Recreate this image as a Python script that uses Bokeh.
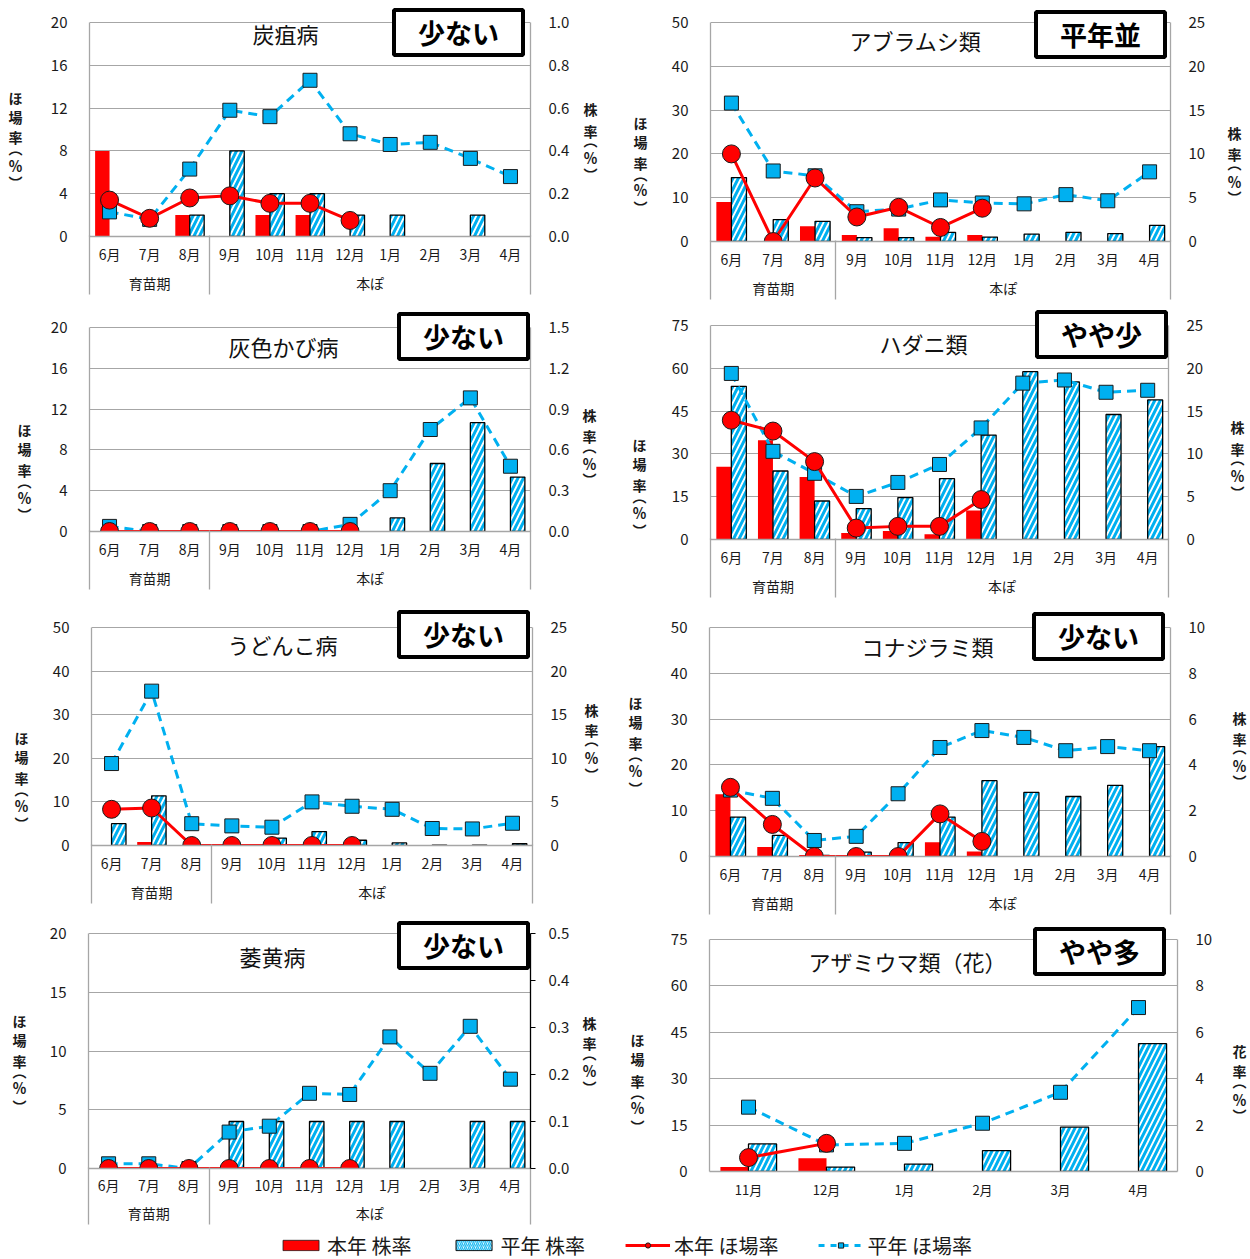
import numpy as np
from bokeh.plotting import figure
from bokeh.models import (Range1d, LinearAxis, FixedTicker, Label, ColumnDataSource,
                          Legend, LegendItem, NumeralTickFormatter)
from bokeh.layouts import column, row
from bokeh.transform import dodge
from bokeh.embed import file_html
from bokeh.resources import INLINE

nan = float("nan")
FONT = "Noto Sans CJK JP"
RED = "#FF0000"
BLUE = "#00B0F0"
GRID = "#A6A6A6"

MONTHS = ["6月", "7月", "8月", "9月", "10月", "11月", "12月", "1月", "2月", "3月", "4月"]
MONTHS_THRIPS = ["11月", "12月", "1月", "2月", "3月", "4月"]
GROUPS = ["育苗期", "本ぽ"]
LEGEND_LABELS = ["本年 株率", "平年 株率", "本年 ほ場率", "平年 ほ場率"]
LEFT_TITLE = ["ほ", "場", "率", "︵", "％", "︶"]
RIGHT_TITLE = ["株", "率", "︵", "％", "︶"]
RIGHT_TITLE_FLOWER = ["花", "率", "︵", "％", "︶"]

# 炭疽病
anth_cur_plant = [0.4, 0, 0.1, 0, 0.1, 0.1, 0, nan, nan, nan, nan]
anth_avg_plant = [nan, nan, 0.1, 0.4, 0.2, 0.2, 0.1, 0.1, nan, 0.1, nan]
anth_cur_field = [3.4, 1.7, 3.6, 3.8, 3.1, 3.1, 1.5, nan, nan, nan, nan]
anth_avg_field = [2.3, 1.6, 6.3, 11.8, 11.2, 14.6, 9.6, 8.6, 8.8, 7.3, 5.6]

# アブラムシ類
aphid_cur_plant = [4.5, 0, 1.75, 0.75, 1.5, 0.55, 0.75, nan, nan, nan, nan]
aphid_avg_plant = [7.3, 2.5, 2.3, 0.45, 0.45, 1.05, 0.5, 0.85, 1.05, 0.9, 1.85]
aphid_cur_field = [20.0, 0, 14.5, 5.6, 7.8, 3.2, 7.6, nan, nan, nan, nan]
aphid_avg_field = [31.6, 16.1, 15.0, 6.8, 7.4, 9.5, 8.8, 8.6, 10.7, 9.3, 15.9]

# 灰色かび病
mold_cur_plant = [0, 0, 0, 0, 0, 0, 0, nan, nan, nan, nan]
mold_avg_plant = [nan, nan, nan, nan, nan, nan, nan, 0.1, 0.5, 0.8, 0.4]
mold_cur_field = [0, 0, 0, 0, 0, 0, 0, nan, nan, nan, nan]
mold_avg_field = [0.5, 0, 0, 0, 0, 0, 0.7, 4.0, 10.0, 13.1, 6.4]

# ハダニ類
mite_cur_plant = [8.5, 11.6, 7.3, 0.75, 1.0, 0.6, 3.4, nan, nan, nan, nan]
mite_avg_plant = [17.9, 8.0, 4.5, 3.6, 4.9, 7.1, 12.2, 19.6, 18.4, 14.6, 16.3]
mite_cur_field = [41.8, 38.0, 27.3, 4.0, 4.6, 4.6, 14.0, nan, nan, nan, nan]
mite_avg_field = [58.2, 30.9, 23.2, 15.1, 20.0, 26.3, 39.1, 54.8, 55.9, 51.6, 52.3]

# うどんこ病
pm_cur_plant = [0.05, 0.4, 0, 0, 0, 0, 0, nan, nan, nan, nan]
pm_avg_plant = [2.5, 5.7, nan, 0.05, 0.85, 1.6, 0.6, 0.3, 0.05, 0.05, 0.2]
pm_cur_field = [8.3, 8.6, 0, 0, 0, 0, 0, nan, nan, nan, nan]
pm_avg_field = [18.8, 35.4, 5.0, 4.5, 4.2, 10.0, 9.0, 8.3, 3.9, 3.8, 5.1]

# コナジラミ類
wf_cur_plant = [2.72, 0.41, 0.07, 0, 0, 0.62, 0.22, nan, nan, nan, nan]
wf_avg_plant = [1.72, 0.92, 0.05, 0.19, 0.61, 1.72, 3.31, 2.8, 2.62, 3.11, 4.8]
wf_cur_field = [15.1, 7.0, 0, 0, 0, 9.3, 3.3, nan, nan, nan, nan]
wf_avg_field = [14.5, 12.7, 3.5, 4.4, 13.7, 23.8, 27.5, 26.0, 23.1, 24.0, 23.1]

# 萎黄病
fus_cur_plant = [0, 0, 0, 0, 0, 0, 0, nan, nan, nan, nan]
fus_avg_plant = [nan, nan, nan, 0.1, 0.1, 0.1, 0.1, 0.1, nan, 0.1, 0.1]
fus_cur_field = [0, 0, 0, 0, 0, 0, 0, nan, nan, nan, nan]
fus_avg_field = [0.4, 0.4, 0, 3.1, 3.6, 6.4, 6.3, 11.2, 8.1, 12.1, 7.6]

# アザミウマ類（花）
thr_cur_plant = [0.19, 0.57, nan, nan, nan, nan]
thr_avg_plant = [1.19, 0.19, 0.32, 0.9, 1.91, 5.51]
thr_cur_field = [4.5, 9.1, nan, nan, nan, nan]
thr_avg_field = [20.8, 8.6, 9.1, 15.6, 25.6, 53.0]

# layout: fig=(origin x, origin y, width, height); frame=(x0, y0, x1, y1) in page pixels
PANELS = [
    dict(title="炭疽病", badge="少ない", months=MONTHS, ymax=20, ystep=4, rmax=1.0, rstep=0.2, rfmt="0.0",
         rtitle=RIGHT_TITLE, data=(anth_cur_plant, anth_avg_plant, anth_cur_field, anth_avg_field),
         fig=(0, 0, 620, 307), frame=(89, 22, 530, 236), s=(7, 6),
         tpos=(285, 32), bpos=(458, 32), lpos=(18, 135), rpos=(590, 137), rw=21),
    dict(title="アブラムシ類", badge="平年並", months=MONTHS, ymax=50, ystep=10, rmax=25, rstep=5, rfmt=None,
         rtitle=RIGHT_TITLE, data=(aphid_cur_plant, aphid_avg_plant, aphid_cur_field, aphid_avg_field),
         fig=(620, 0, 630, 307), frame=(710, 22, 1170, 241), s=(7, 6),
         tpos=(915, 39), bpos=(1100, 34), lpos=(643, 160), rpos=(1234, 160), rw=17),
    dict(title="灰色かび病", badge="少ない", months=MONTHS, ymax=20, ystep=4, rmax=1.5, rstep=0.3, rfmt="0.0",
         rtitle=RIGHT_TITLE, data=(mold_cur_plant, mold_avg_plant, mold_cur_field, mold_avg_field),
         fig=(0, 307, 620, 300), frame=(89, 327, 530, 531), s=(7, 6),
         tpos=(283, 345), bpos=(463, 336), lpos=(27, 467), rpos=(589, 443), rw=21),
    dict(title="ハダニ類", badge="やや少", months=MONTHS, ymax=75, ystep=15, rmax=25, rstep=5, rfmt=None,
         rtitle=RIGHT_TITLE, data=(mite_cur_plant, mite_avg_plant, mite_cur_field, mite_avg_field),
         fig=(620, 307, 630, 300), frame=(710, 325, 1168, 539), s=(7, 6),
         tpos=(923, 342), bpos=(1101, 334), lpos=(642, 482), rpos=(1237, 455), rw=17),
    dict(title="うどんこ病", badge="少ない", months=MONTHS, ymax=50, ystep=10, rmax=25, rstep=5, rfmt=None,
         rtitle=RIGHT_TITLE, data=(pm_cur_plant, pm_avg_plant, pm_cur_field, pm_avg_field),
         fig=(0, 607, 620, 312), frame=(91, 627, 532, 845), s=(7, 6),
         tpos=(282, 643), bpos=(463, 634), lpos=(24, 775), rpos=(591, 737), rw=17),
    dict(title="コナジラミ類", badge="少ない", months=MONTHS, ymax=50, ystep=10, rmax=10, rstep=2, rfmt=None,
         rtitle=RIGHT_TITLE, data=(wf_cur_plant, wf_avg_plant, wf_cur_field, wf_avg_field),
         fig=(620, 607, 630, 312), frame=(709, 627, 1170, 856), s=(7, 6),
         tpos=(927, 645), bpos=(1098, 636), lpos=(638, 740), rpos=(1239, 745), rw=17),
    dict(title="萎黄病", badge="少ない", months=MONTHS, ymax=20, ystep=5, rmax=0.5, rstep=0.1, rfmt="0.0",
         rtitle=RIGHT_TITLE, data=(fus_cur_plant, fus_avg_plant, fus_cur_field, fus_avg_field),
         fig=(0, 919, 620, 311), frame=(88, 933, 530, 1168), s=(6, 5),
         tpos=(272, 955), bpos=(463, 945), lpos=(22, 1058), rpos=(589, 1050), rw=21, rticks_marks=True),
    dict(title="アザミウマ類（花）", badge="やや多", months=MONTHS_THRIPS, ymax=75, ystep=15, rmax=10, rstep=2,
         rfmt=None, rtitle=RIGHT_TITLE_FLOWER,
         data=(thr_cur_plant, thr_avg_plant, thr_cur_field, thr_avg_field),
         fig=(620, 919, 630, 311), frame=(709, 939, 1177, 1171), s=(8, 0),
         tpos=(907, 960), bpos=(1099, 951), lpos=(640, 1078), rpos=(1239, 1078), rw=17),
]

LABEL_H = 24  # approx. height of a 14px tick label line
LEFT_OFFS = [-38, -19, 2, 13, 29, 47]     # vertical offsets (px) of the stacked characters
RIGHT_OFFS = [-28, -7, 2, 20, 36]


def style_axis(ax, size):
    ax.major_label_text_font = FONT
    ax.major_label_text_font_size = size
    ax.major_label_text_color = "#1a1a1a"
    ax.axis_line_color = None
    ax.major_tick_line_color = None
    ax.minor_tick_line_color = None
    ax.major_tick_out = 0
    ax.major_tick_in = 0
    ax.minor_tick_out = 0
    ax.minor_tick_in = 0


def make_panel(cfg):
    ox, oy, W, H = cfg["fig"]
    fx0, fy0, fx1, fy1 = cfg["frame"]
    months = cfg["months"]
    n = len(months)
    ymax, rmax = cfg["ymax"], cfg["rmax"]
    fh = fy1 - fy0
    bx, by = cfg["bpos"]
    # the frame starts at the top of its row (rows align frame tops); the space above the
    # top gridline holds the badge box
    top = oy
    ext = fy0 - top
    scale = (fh + ext) / fh
    p = figure(frame_width=fx1 - fx0, frame_height=fh + ext, min_border=0,
               min_border_left=fx0 - ox, min_border_top=0,
               min_border_right=W - (fx1 - ox), min_border_bottom=H - (fy1 - oy),
               x_range=Range1d(-0.5, n - 0.5), y_range=Range1d(0, ymax * scale),
               output_backend="svg", toolbar_location=None, tools="")
    p.extra_y_ranges = {"right": Range1d(0, rmax * scale)}
    p.outline_line_color = None
    p.background_fill_color = "white"
    p.border_fill_color = "white"

    def X(px):
        return -0.5 + (px - fx0) / (fx1 - fx0) * n

    def Y(py):
        return (fy1 - py) / fh * ymax

    # left axis (also draws the left border of the plot area)
    lticks = [float(v) for v in np.arange(0, ymax + cfg["ystep"] / 2, cfg["ystep"])]
    yax = p.yaxis[0]
    yax.ticker = FixedTicker(ticks=lticks, minor_ticks=[])
    style_axis(yax, "15px")
    yax.axis_line_color = GRID
    yax.axis_line_width = 1.3
    yax.bounds = (0, ymax)
    yax.major_label_standoff = 22
    p.ygrid.grid_line_color = GRID
    p.ygrid.grid_line_width = 1.2
    p.xgrid.visible = False

    # left axis title: characters stacked upright
    lx, ly = cfg["lpos"]
    lt = [round(Y(ly + o), 5) for o in LEFT_OFFS]
    ltax = LinearAxis(ticker=FixedTicker(ticks=lt, minor_ticks=[]))
    ltax.major_label_overrides = {t: c for t, c in zip(lt, LEFT_TITLE)}
    style_axis(ltax, "14px")
    ltax.major_label_text_font_style = "bold"
    ltax.major_label_orientation = "horizontal"
    ltax.major_label_standoff = max(0, int((fx0 - 39) - (lx + 7)))
    p.add_layout(ltax, "left")

    # right axis (also draws the right border)
    rticks = [round(float(v), 3) for v in np.arange(0, rmax + cfg["rstep"] / 2, cfg["rstep"])]
    rax = LinearAxis(y_range_name="right", ticker=FixedTicker(ticks=rticks, minor_ticks=[]))
    if cfg["rfmt"]:
        rax.formatter = NumeralTickFormatter(format=cfg["rfmt"])
    style_axis(rax, "15px")
    rax.axis_line_color = GRID
    rax.axis_line_width = 1.3
    rax.bounds = (0, rmax)
    rax.major_label_standoff = 18
    if cfg.get("rticks_marks"):
        rax.axis_line_color = "#000000"
        rax.major_tick_line_color = "#000000"
        rax.major_tick_out = 5
        rax.major_label_standoff = 13
    p.add_layout(rax, "right")

    # right axis title
    rx, ry = cfg["rpos"]
    rtk = [round(Y(ry + o), 5) for o in RIGHT_OFFS]
    rtax = LinearAxis(ticker=FixedTicker(ticks=rtk, minor_ticks=[]))
    rtax.major_label_overrides = {t: c for t, c in zip(rtk, cfg["rtitle"])}
    style_axis(rtax, "14px")
    rtax.major_label_text_font_style = "bold"
    rtax.major_label_orientation = "horizontal"
    rtax.major_label_standoff = max(0, int((rx - 10) - (fx1 + 18 + cfg["rw"])))
    p.add_layout(rtax, "right")

    # month axis
    s1, s2 = cfg["s"]
    xax = p.xaxis[0]
    xax.ticker = FixedTicker(ticks=list(range(n)), minor_ticks=[])
    xax.major_label_overrides = {i: m for i, m in enumerate(months)}
    style_axis(xax, "14px" if n == 11 else "13px")
    xax.axis_line_color = GRID
    xax.axis_line_width = 1.3
    xax.major_label_standoff = s1

    if n == 11:
        # period axis (育苗期 / 本ぽ); its minor ticks draw the period separator lines
        seps = [-0.5, 2.5, n - 0.5]
        tick_out = s2 + LABEL_H - 2
        gax = LinearAxis(ticker=FixedTicker(ticks=[1, 6.5], minor_ticks=seps))
        gax.major_label_overrides = {1: GROUPS[0], 6.5: GROUPS[1]}
        style_axis(gax, "14px")
        gax.minor_tick_line_color = GRID
        gax.minor_tick_line_width = 1.3
        gax.minor_tick_in = s1 + LABEL_H
        gax.minor_tick_out = tick_out
        gax.major_label_standoff = s2 - tick_out
        p.add_layout(gax, "below")

    cur_plant, avg_plant, cur_field, avg_field = cfg["data"]
    src = ColumnDataSource(dict(
        x=np.arange(n, dtype=float),
        cur_plant=np.array(cur_plant, dtype=float),
        avg_plant=np.array(avg_plant, dtype=float),
        cur_field=np.array(cur_field, dtype=float),
        avg_field=np.array(avg_field, dtype=float),
    ))
    p.vbar(x=dodge("x", -0.18), top="cur_plant", width=0.36, source=src, y_range_name="right",
           fill_color=RED, line_color=None)
    p.vbar(x=dodge("x", 0.18), top="avg_plant", width=0.36, source=src, y_range_name="right",
           fill_color="white", line_color="black", line_width=1.3,
           hatch_pattern="/", hatch_color=BLUE, hatch_weight=3, hatch_scale=11)
    p.line(x="x", y="avg_field", source=src, line_color=BLUE, line_width=3, line_dash="9 6")
    p.scatter(x="x", y="avg_field", source=src, marker="square", size=14,
              fill_color=BLUE, line_color="#1a1a1a", line_width=1)
    p.line(x="x", y="cur_field", source=src, line_color=RED, line_width=3)
    p.scatter(x="x", y="cur_field", source=src, marker="circle", size=18,
              fill_color=RED, line_color="#1a1a1a", line_width=1)

    # title inside plot
    tx, ty = cfg["tpos"]
    p.add_layout(Label(x=X(tx), y=Y(ty), text=cfg["title"], text_font=FONT, text_font_size="22px",
                       text_align="center", text_baseline="middle", text_color="#111111"))
    # badge
    p.add_layout(Label(x=X(bx), y=Y(by), text=cfg["badge"], text_font=FONT, text_font_size="27px",
                       text_font_style="bold", text_align="center", text_baseline="middle",
                       text_color="#000000", background_fill_color="white",
                       border_line_color="black", border_line_width=4,
                       padding=dict(left=24, right=24, top=3, bottom=3)))
    return p


panels = [make_panel(c) for c in PANELS]

# legend strip: legend-only renderers whose marks fall outside the strip's ranges
lg = figure(frame_width=1250, frame_height=29, min_border=0, x_axis_location=None, y_axis_location=None,
            x_range=Range1d(100, 101), y_range=Range1d(100, 101),
            output_backend="svg", toolbar_location=None, tools="")
lg.outline_line_color = None
lg.grid.visible = False
lsrc = ColumnDataSource(dict(x=np.arange(len(MONTHS), dtype=float),
                             cur_plant=np.array(anth_cur_plant, dtype=float),
                             avg_plant=np.array(anth_avg_plant, dtype=float),
                             cur_field=np.array(anth_cur_field, dtype=float),
                             avg_field=np.array(anth_avg_field, dtype=float)))
r1 = lg.vbar(x="x", top="cur_plant", width=0.36, source=lsrc, fill_color=RED, line_color="#1a1a1a",
             line_width=0.8)
r2 = lg.vbar(x="x", top="avg_plant", width=0.36, source=lsrc, fill_color="white", line_color="black",
             line_width=1, hatch_pattern="/", hatch_color=BLUE, hatch_weight=1.2, hatch_scale=4)
r3a = lg.line(x="x", y="cur_field", source=lsrc, line_color=RED, line_width=3)
r3b = lg.scatter(x="x", y="cur_field", source=lsrc, marker="circle", size=13, fill_color=RED,
                 line_color="#1a1a1a")
r4a = lg.line(x="x", y="avg_field", source=lsrc, line_color=BLUE, line_width=3, line_dash="6 6")
r4b = lg.scatter(x="x", y="avg_field", source=lsrc, marker="square", size=12, fill_color=BLUE,
                 line_color="#1a1a1a")
legend = Legend(items=[LegendItem(label=LEGEND_LABELS[0], renderers=[r1]),
                       LegendItem(label=LEGEND_LABELS[1], renderers=[r2]),
                       LegendItem(label=LEGEND_LABELS[2], renderers=[r3a, r3b]),
                       LegendItem(label=LEGEND_LABELS[3], renderers=[r4a, r4b])],
                location="center", orientation="horizontal", border_line_color=None,
                background_fill_alpha=0, label_text_font=FONT, label_text_font_size="20px",
                label_text_color="#1a1a1a", glyph_width=45, glyph_height=13, spacing=40,
                label_standoff=4, padding=0, margin=0, label_height=13)
lg.add_layout(legend, "center")

layout = column(row(panels[0], panels[1]), row(panels[2], panels[3]),
                row(panels[4], panels[5]), row(panels[6], panels[7]), lg)

open("out.html", "w").write(file_html(layout, INLINE))
